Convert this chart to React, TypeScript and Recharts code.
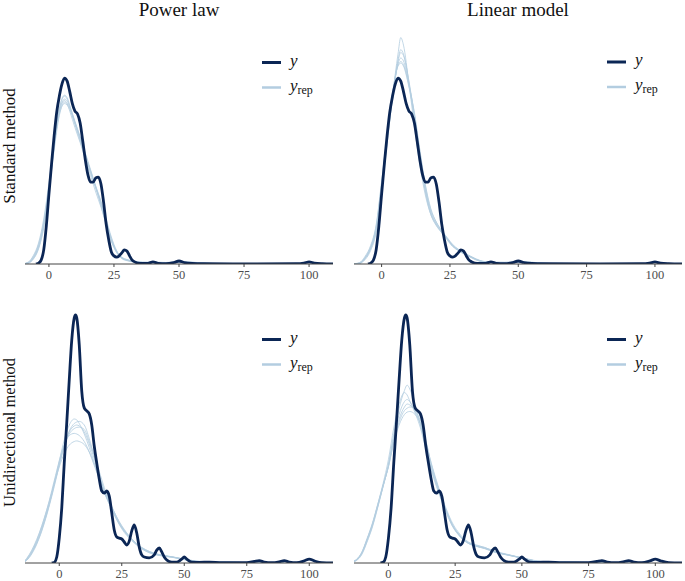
import { Line, LineChart, XAxis, YAxis } from 'recharts'

const SERIF = '"Liberation Serif", "Times New Roman", serif'
const DARK = '#0b2655'
const LIGHT = '#b3cde0'
const AXIS = '#444444'

const xTicks = [0, 25, 50, 75, 100]

// density values are in units of 1e-3

// observed y, standard method row
const yStandardX = [-5, -4, -3, -2, -1, 0, 1, 2, 3, 4, 5, 6, 7, 8, 9, 10, 11, 12, 13, 14, 15, 16, 17, 18, 19, 20, 21, 22, 23, 24, 25, 26, 27, 28, 29, 30, 31, 32, 33, 35, 38, 40, 42, 45, 48, 50, 52, 55, 60, 80, 95, 98, 100, 102, 105, 110]
const yStandardDens = [0, 0.3, 1.3, 4.7, 12.7, 23.3, 33.3, 42.7, 50.7, 56, 60, 62, 61, 57.5, 53.5, 51, 50, 47, 41, 34.7, 29.7, 27.3, 27.3, 28.7, 29, 26.7, 20.7, 13.3, 8, 4, 2.7, 2.3, 2.7, 3.7, 4.7, 4.3, 2.7, 1.3, 0.7, 0.2, 0.2, 0.7, 0.2, 0.1, 0.5, 1, 0.5, 0.2, 0.1, 0, 0.1, 0.3, 0.7, 0.3, 0.1, 0]

// observed y, unidirectional method row
const yUniX = [-3, -2, -1, 0, 1, 2, 3, 4, 5, 6, 6.5, 7, 8, 9, 10, 11, 12, 13, 14, 15, 16, 17, 18, 19, 20, 21, 22, 23, 24, 25, 26, 27, 28, 29, 30, 31, 32, 33, 34, 36, 38, 39, 40, 41, 42, 43, 45, 47, 49, 50, 51, 53, 56, 60, 65, 75, 78, 80, 82, 85, 88, 90, 92, 95, 98, 100, 102, 105, 110]
const yUniDens = [0, 0.2, 2, 8.3, 18.3, 33.3, 46.7, 61, 74.3, 81.7, 82.7, 81.7, 72.7, 57.3, 51.7, 50.7, 49.7, 46, 39, 33.3, 28, 24, 23.3, 24, 22.3, 16.7, 11, 8.7, 8.3, 8, 7, 6, 7.3, 10.7, 12.7, 10, 5.3, 2.7, 2, 1.7, 2.7, 4.3, 5, 3.7, 2, 1, 0.3, 0.3, 1.3, 2, 1.3, 0.3, 0.2, 0.3, 0.1, 0.1, 0.5, 0.8, 0.3, 0.1, 0.4, 0.8, 0.3, 0.1, 0.7, 1.3, 0.7, 0.1, 0]

// evaluation points of the replicated densities
const topGrid = [-10, -8, -6, -4, -2, 0, 2, 4, 6, 7, 8, 10, 12, 14, 16, 18, 20, 22, 24, 26, 28, 30, 33, 36, 40, 45, 50, 55, 60, 70]
const bottomGrid = [-14, -12, -10, -8, -6, -4, -2, 0, 2, 4, 6, 7, 8, 10, 12, 14, 16, 18, 20, 22, 24, 26, 28, 30, 33, 36, 40, 45, 50, 55, 60, 70, 80, 90]

const powerStandardRep = [
  [0, 0.3, 2, 5.7, 13, 25, 39.3, 50.7, 55, 54.3, 52.3, 47, 41.7, 36, 30.7, 25.3, 20, 14, 8, 4, 2, 1.3, 0.8, 0.5, 0.5, 0.4, 0.7, 0.5, 0.2, 0],
  [0, 0.5, 2.5, 6.5, 14, 26, 40.5, 52, 56.3, 55.5, 53, 47.5, 42, 36.5, 31, 25.5, 19.5, 13, 7.5, 3.8, 1.8, 1.1, 0.7, 0.5, 0.6, 0.5, 0.6, 0.4, 0.1, 0],
  [0, 0.2, 1.6, 5, 12, 24, 38, 49.5, 54, 53.5, 52, 47.5, 42.5, 37, 31.5, 26, 21, 15, 9, 4.5, 2.2, 1.4, 0.9, 0.6, 0.4, 0.3, 0.8, 0.6, 0.2, 0],
  [0.1, 0.6, 2.8, 7, 15, 27, 41, 51, 54.5, 53.5, 51, 45.5, 40.5, 35, 29.5, 24, 19, 13.5, 7.8, 4.2, 2.3, 1.5, 0.9, 0.4, 0.5, 0.5, 0.5, 0.3, 0.1, 0],
  [0, 0.3, 1.8, 5.3, 12.5, 24.5, 39, 51.5, 56, 55, 52.5, 46.5, 41, 35.5, 30.5, 25.5, 20.5, 14.5, 8.5, 4.3, 2, 1.2, 0.7, 0.5, 0.4, 0.4, 0.6, 0.6, 0.3, 0],
  [0, 0.4, 2.2, 6, 13.5, 25.5, 39.5, 50, 53.5, 53, 51.5, 47, 42, 36.5, 31, 25.8, 20.5, 14.2, 8.2, 4.1, 2.1, 1.3, 0.8, 0.6, 0.6, 0.5, 0.7, 0.5, 0.2, 0],
]

const linearStandardRep = [
  [0, 0.2, 1.5, 4.5, 10.5, 24, 40, 56, 70, 75.5, 73, 60, 46, 33, 23, 16.5, 13, 10.5, 8.3, 6, 4.7, 3.6, 2.2, 1, 0.5, 0.5, 0.6, 0.4, 0.1, 0],
  [0, 0.3, 2, 5.3, 11.7, 26, 41.7, 56, 66.7, 68.7, 67.7, 60, 50, 36.7, 25, 17.3, 13.3, 10.7, 8.3, 6, 4.7, 3.7, 2.3, 1, 0.5, 0.5, 0.7, 0.5, 0.2, 0],
  [0, 0.4, 2.3, 5.8, 12.5, 27, 42.5, 56.5, 66, 67, 66, 59, 49.5, 37.5, 26, 18, 14, 11, 8.5, 6.3, 4.8, 3.5, 2, 0.9, 0.6, 0.6, 0.6, 0.4, 0.2, 0],
  [0, 0.2, 1.8, 5, 11.2, 25, 40.5, 55, 67.5, 70.5, 69.5, 61, 49, 35.5, 24.5, 17, 13.5, 11, 8.6, 6.2, 4.5, 3.4, 2.1, 1.1, 0.5, 0.4, 0.7, 0.5, 0.1, 0],
  [0.1, 0.5, 2.6, 6.2, 13, 27.5, 43, 57, 66.3, 67.5, 66.5, 59.5, 50.5, 38, 26.5, 18.5, 14, 11.2, 8.8, 6.5, 5, 3.8, 2.4, 1.2, 0.6, 0.5, 0.5, 0.3, 0.1, 0],
  [0, 0.3, 2, 5.4, 12, 26.2, 41.5, 55.5, 68, 71.5, 70, 60.5, 48, 35, 24, 16.5, 12.8, 10.4, 8, 5.8, 4.5, 3.6, 2.3, 1, 0.4, 0.4, 0.8, 0.6, 0.2, 0],
]

const powerUniRep = [
  [0.3, 2.3, 5.3, 9.3, 14.3, 20, 26.7, 33.3, 39.3, 43.7, 45.7, 46, 45.7, 43.7, 39.7, 34.7, 29.3, 24.3, 20.3, 16.7, 13.3, 10.7, 8.7, 7, 5, 3.7, 2.7, 2, 1.2, 0.5, 0.3, 0.2, 0.1, 0],
  [0.2, 2, 4.8, 8.6, 13.5, 19.5, 26.5, 34, 41, 46, 48, 47.7, 46.5, 43, 38.5, 33.5, 28.3, 23.6, 19.8, 16.3, 13, 10.5, 8.5, 6.8, 4.8, 3.5, 2.6, 2.1, 1.3, 0.6, 0.3, 0.2, 0.1, 0],
  [0.5, 2.8, 6, 10, 15, 20.5, 26.5, 32, 36.5, 39.3, 40.5, 40.7, 40.5, 39.5, 37, 33, 28.5, 24.2, 20.5, 17, 13.8, 11.2, 9, 7.2, 5.2, 3.9, 2.8, 2, 1.1, 0.5, 0.3, 0.2, 0.1, 0],
  [0.2, 1.8, 4.5, 8.3, 13.2, 19, 25.5, 32.5, 39, 44, 46.5, 47, 47.2, 46, 41.5, 35.5, 29.5, 24, 19.8, 16, 12.8, 10.2, 8.3, 6.7, 4.7, 3.4, 2.5, 1.9, 1.2, 0.6, 0.3, 0.2, 0.1, 0],
  [0.4, 2.6, 5.6, 9.8, 14.8, 20.8, 27.5, 34, 39.5, 42.5, 43.2, 43, 42.5, 40.5, 37, 32.5, 28, 23.5, 19.7, 16.3, 13.2, 10.7, 8.8, 7.1, 5.1, 3.8, 2.8, 2.1, 1.2, 0.5, 0.3, 0.2, 0.1, 0],
  [0.3, 2.2, 5, 8.9, 13.8, 19.5, 26, 32.8, 38.8, 43, 44.8, 45.2, 45.3, 44.5, 40.5, 35.8, 30.5, 25.2, 20.8, 17, 13.6, 11, 8.9, 7.1, 5, 3.6, 2.6, 2, 1.3, 0.6, 0.4, 0.2, 0.1, 0],
]

const linearUniRep = [
  [0.2, 0.8, 2.8, 7, 12, 18.5, 25.5, 33, 43, 51.5, 57.5, 59.3, 58, 52.5, 46, 38.5, 31.5, 26, 21, 16.5, 12.5, 9.8, 7.8, 6.5, 5.5, 4.9, 3.6, 2.6, 1.6, 0.6, 0.3, 0.2, 0.1, 0],
  [0.3, 1, 3.3, 7.8, 13, 19.5, 26.5, 34.5, 45, 53, 56.8, 56, 54, 50, 45, 38, 31, 25.5, 20.5, 16, 12.2, 9.6, 7.7, 6.5, 5.6, 5, 3.7, 2.7, 1.7, 0.7, 0.3, 0.2, 0.1, 0],
  [0.3, 1, 3.3, 7.7, 12.7, 19, 25.7, 32.3, 41.3, 48, 52, 53, 52.7, 50.7, 47.3, 40, 32.7, 26.7, 21.3, 16.7, 12.7, 10, 8, 6.7, 5.7, 5, 3.7, 2.7, 1.7, 0.7, 0.3, 0.2, 0.1, 0],
  [0.4, 1.2, 3.6, 8.2, 13.3, 19.6, 26, 32, 40, 46, 49.5, 50.3, 50.5, 49.5, 46.5, 40.5, 33.5, 27.5, 22, 17.3, 13.3, 10.5, 8.4, 7, 6, 5.2, 3.9, 2.8, 1.7, 0.7, 0.3, 0.2, 0.1, 0],
  [0.2, 0.9, 3, 7.3, 12.3, 18.8, 25.5, 32.5, 42, 49.5, 53.8, 54.5, 53.8, 50.5, 46.2, 39, 32, 26.2, 21, 16.4, 12.4, 9.8, 7.9, 6.6, 5.8, 5.2, 3.8, 2.6, 1.6, 0.6, 0.3, 0.2, 0.1, 0],
  [0.3, 1.1, 3.4, 7.9, 12.9, 19.2, 25.8, 32.2, 40.5, 47, 50.8, 51.6, 52, 51.8, 48.2, 41, 33.2, 27, 21.5, 16.8, 12.8, 10, 8, 6.8, 5.6, 4.8, 3.5, 2.6, 1.8, 0.8, 0.4, 0.2, 0.1, 0],
]

const toPoints = (xs: number[], ds: number[]) => xs.map((x, i) => ({ x, d: ds[i] }))

// serif tick labels, drawn by hand so the font sticks
function SerifTick(props: any) {
  const { x, y, payload } = props
  return (
    <text x={x} y={y + 10} textAnchor="middle" fill="#4d4d4d" fontSize={12.5} fontFamily={SERIF}>
      {payload.value}
    </text>
  )
}

type PanelProps = {
  left: number
  top: number
  width: number
  height: number
  margin: { top: number; right: number; bottom: number; left: number }
  axisHeight: number
  xDomain: [number, number]
  yMax: number
  obsX: number[]
  obsDens: number[]
  grid: number[]
  reps: number[][]
}

function DensPanel({ left, top, width, height, margin, axisHeight, xDomain, yMax, obsX, obsDens, grid, reps }: PanelProps) {
  return (
    <div style={{ position: 'absolute', left, top }}>
      <LineChart width={width} height={height} margin={margin}>
        <XAxis
          dataKey="x"
          type="number"
          domain={xDomain}
          allowDataOverflow
          ticks={xTicks}
          interval={0}
          height={axisHeight}
          tickSize={3}
          tick={<SerifTick />}
          tickLine={{ stroke: AXIS }}
          axisLine={{ stroke: AXIS }}
        />
        <YAxis
          type="number"
          domain={[0, yMax]}
          allowDataOverflow
          width={0}
          tick={false}
          tickLine={false}
          axisLine={{ stroke: AXIS }}
        />
        {reps.map((r, i) => (
          <Line
            key={i}
            data={toPoints(grid, r)}
            dataKey="d"
            type="monotone"
            stroke={LIGHT}
            strokeWidth={0.9}
            strokeOpacity={0.9}
            dot={false}
            activeDot={false}
            isAnimationActive={false}
          />
        ))}
        <Line
          data={toPoints(obsX, obsDens)}
          dataKey="d"
          type="monotone"
          stroke={DARK}
          strokeWidth={2.8}
          dot={false}
          activeDot={false}
          isAnimationActive={false}
        />
      </LineChart>
    </div>
  )
}

function KeyBlock({ x, y }: { x: number; y: number }) {
  return (
    <g fontFamily={SERIF} fill="#111">
      <line x1={x} x2={x + 19} y1={y} y2={y} stroke={DARK} strokeWidth={3} />
      <text x={x + 28} y={y + 3} fontStyle="italic" fontSize={17} fontFamily={SERIF}>y</text>
      <line x1={x} x2={x + 19} y1={y + 25} y2={y + 25} stroke={LIGHT} strokeWidth={2.5} />
      <text x={x + 28} y={y + 28} fontSize={17} fontFamily={SERIF}>
        <tspan fontStyle="italic">y</tspan>
        <tspan fontSize={12} dy={3}>rep</tspan>
      </text>
    </g>
  )
}

export default function App() {
  return (
    <div style={{ position: 'absolute', left: 0, top: 0, width: 685, height: 581, overflow: 'hidden', background: '#fff', fontFamily: SERIF }}>
      <DensPanel left={0} top={0} width={340} height={290} margin={{ top: 28, right: 7, bottom: 0, left: 25 }} axisHeight={26}
        xDomain={[-9.2, 109.2]} yMax={78.7} obsX={yStandardX} obsDens={yStandardDens} grid={topGrid} reps={powerStandardRep} />
      <DensPanel left={340} top={0} width={345} height={290} margin={{ top: 28, right: 3, bottom: 0, left: 14 }} axisHeight={26}
        xDomain={[-10.1, 109.9]} yMax={78.7} obsX={yStandardX} obsDens={yStandardDens} grid={topGrid} reps={linearStandardRep} />
      <DensPanel left={0} top={290} width={340} height={300} margin={{ top: 12, right: 7, bottom: 0, left: 25 }} axisHeight={27}
        xDomain={[-13.7, 109.5]} yMax={87} obsX={yUniX} obsDens={yUniDens} grid={bottomGrid} reps={powerUniRep} />
      <DensPanel left={340} top={290} width={345} height={300} margin={{ top: 12, right: 3, bottom: 0, left: 14 }} axisHeight={27}
        xDomain={[-12.9, 110]} yMax={87} obsX={yUniX} obsDens={yUniDens} grid={bottomGrid} reps={linearUniRep} />
      <svg width={685} height={581} style={{ position: 'absolute', left: 0, top: 0, pointerEvents: 'none' }} fontFamily={SERIF}>
        <text x={179} y={16} textAnchor="middle" fontSize={19} fill="#111">Power law</text>
        <text x={518} y={16} textAnchor="middle" fontSize={19} fill="#111">Linear model</text>
        <text transform="translate(15,146) rotate(-90)" textAnchor="middle" fontSize={17} fill="#111">Standard method</text>
        <text transform="translate(15,432.5) rotate(-90)" textAnchor="middle" fontSize={16.5} fill="#111">Unidirectional method</text>
        <KeyBlock x={262} y={62.5} />
        <KeyBlock x={607} y={62} />
        <KeyBlock x={262} y={339.5} />
        <KeyBlock x={607} y={339.5} />
      </svg>
    </div>
  )
}
